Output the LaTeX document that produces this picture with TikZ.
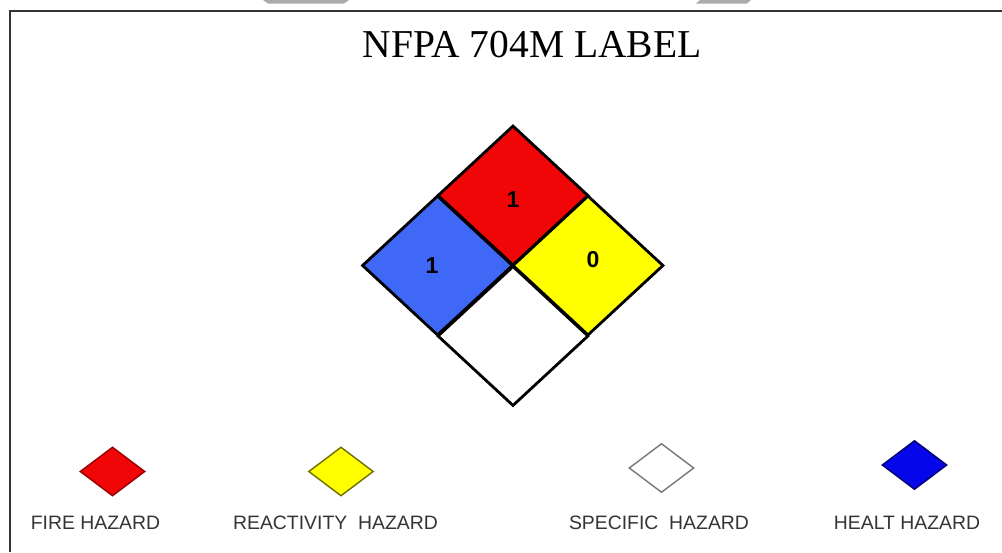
\documentclass[tikz,border=0pt]{standalone}
\usepackage{fontspec}
\setmainfont{Liberation Serif}
\setsansfont{Liberation Sans}
\usetikzlibrary{shapes.geometric}

\definecolor{firered}{RGB}{240,6,6}
\definecolor{reactyellow}{RGB}{255,255,0}
\definecolor{healthblue}{RGB}{62,104,245}
\definecolor{legendblue}{RGB}{6,6,235}
\definecolor{inkgrey}{RGB}{52,52,52}

\begin{document}
\begin{tikzpicture}[x=1pt,y=-1pt,
  square/.style={diamond,draw=black,line width=2.8pt,inner sep=0pt,minimum width=151,minimum height=140},
  rating/.style={inner sep=0pt,font=\sffamily\bfseries\fontsize{23}{23}\selectfont},
  swatch/.style={diamond,line width=1.4pt,inner sep=0pt,minimum width=65,minimum height=49},
  legend/.style={inner sep=0pt,anchor=base,text=inkgrey,font=\sffamily\fontsize{19.4}{23}\selectfont}]
\path[use as bounding box] (0,0) rectangle (1002,552);
% frame and tabs
\path[fill=black!33] (263,0) -- (349,0) -- (344,3.5) -- (268,3.5) -- cycle;
\path[fill=black!33] (700,0) -- (751,0) -- (747,3.5) -- (696,3.5) -- cycle;
\draw[inkgrey,line width=2.8pt] (10,552) -- (10,11) -- (1002,11);
\node[anchor=base,inner sep=0pt,font=\fontsize{39.5}{45}\selectfont] (title) at (532,57) {NFPA 704M LABEL};
% NFPA diamond
\node[square,fill=firered] (fire) at (513,195.5) {};
\node[square,fill=healthblue] (health) at (437.5,265.5) {};
\node[square,fill=reactyellow] (react) at (588,265.5) {};
\node[square,fill=white] (special) at (513,336) {};
\node[rating] (firenum) at (513,199.5) {1};
\node[rating] (healthnum) at (432,265.5) {1};
\node[rating] (reactnum) at (593,259.5) {0};
% legend
\node[swatch,fill=firered,draw={rgb,255:red,150;green,0;blue,0}] (firekey) at (112.5,471.5) {};
\node[swatch,fill=reactyellow,draw={rgb,255:red,110;green,110;blue,0}] (reactkey) at (341,471.5) {};
\node[swatch,fill=white,draw={rgb,255:red,120;green,120;blue,120}] (specialkey) at (661.5,468) {};
\node[swatch,fill=legendblue,draw={rgb,255:red,0;green,0;blue,110}] (healthkey) at (914.5,465) {};
\node[legend] (firetext) at (95.5,529) {FIRE HAZARD};
\node[legend] (reacttext) at (335.5,529) {REACTIVITY\ \ HAZARD};
\node[legend] (specialtext) at (659,529) {SPECIFIC\ \ HAZARD};
\node[legend] (healthtext) at (907,529) {HEALT HAZARD};
\end{tikzpicture}
\end{document}
